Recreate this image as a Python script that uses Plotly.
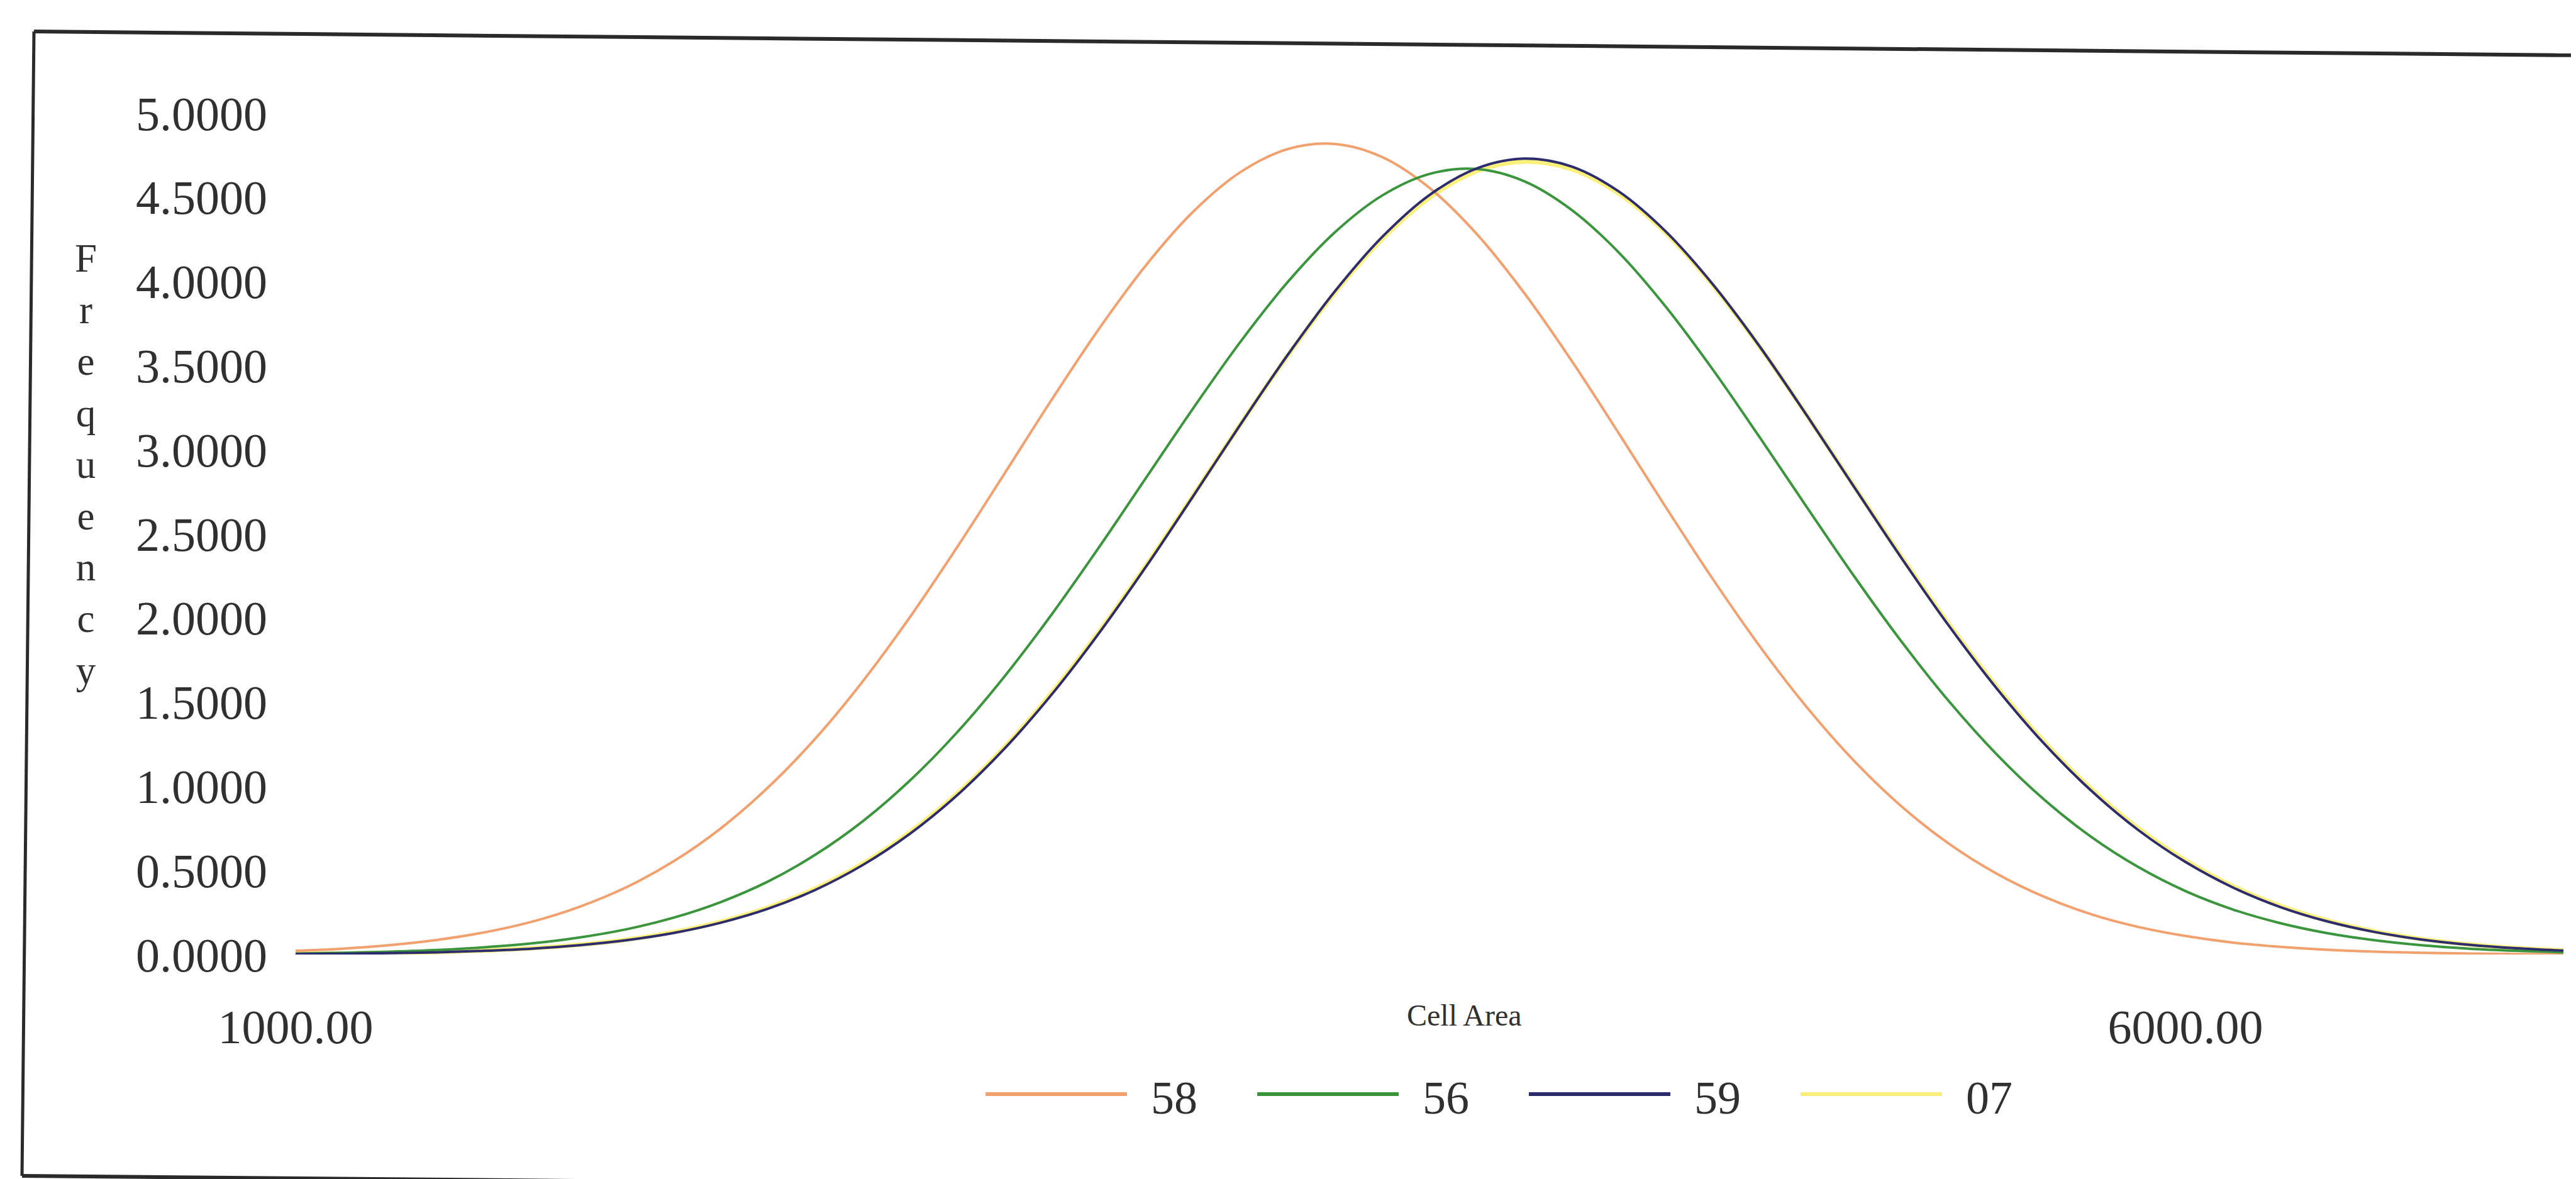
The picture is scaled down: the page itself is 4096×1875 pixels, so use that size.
import plotly.graph_objects as go

# ---------------- data ----------------
cell_area = [1000, 1125, 1250, 1375, 1500, 1625, 1750, 1875, 2000, 2125, 2250, 2375,
             2500, 2625, 2750, 2875, 3000, 3125, 3250, 3375, 3500, 3625, 3750, 3875,
             4000, 4125, 4250, 4375, 4500, 4625, 4750, 4875, 5000, 5125, 5250, 5375,
             5500, 5625, 5750, 5875, 6000, 6125, 6250, 6375, 6500, 6625, 6750, 6875, 7000]

freq_58 = [0.022, 0.035, 0.056, 0.087, 0.132, 0.195, 0.283, 0.400, 0.554, 0.750, 0.993, 1.283,
           1.622, 2.004, 2.420, 2.856, 3.296, 3.717, 4.097, 4.415, 4.650, 4.787, 4.817, 4.739,
           4.556, 4.282, 3.933, 3.532, 3.100, 2.659, 2.230, 1.828, 1.465, 1.147, 0.878, 0.657,
           0.481, 0.344, 0.240, 0.164, 0.110, 0.071, 0.046, 0.028, 0.017, 0.010, 0.006, 0.003, 0.002]
freq_56 = [0.006, 0.010, 0.017, 0.027, 0.043, 0.066, 0.101, 0.150, 0.219, 0.312, 0.434, 0.593,
           0.791, 1.033, 1.320, 1.651, 2.020, 2.418, 2.833, 3.247, 3.642, 3.997, 4.293, 4.511,
           4.639, 4.668, 4.596, 4.427, 4.174, 3.850, 3.475, 3.069, 2.653, 2.243, 1.856, 1.503,
           1.191, 0.923, 0.700, 0.520, 0.377, 0.268, 0.187, 0.127, 0.085, 0.055, 0.035, 0.022, 0.013]
freq_59 = [0.003, 0.005, 0.008, 0.013, 0.022, 0.035, 0.055, 0.085, 0.128, 0.189, 0.272, 0.384,
           0.531, 0.717, 0.946, 1.222, 1.544, 1.908, 2.305, 2.725, 3.151, 3.564, 3.942, 4.265,
           4.514, 4.672, 4.730, 4.684, 4.536, 4.297, 3.982, 3.609, 3.198, 2.773, 2.352, 1.951,
           1.583, 1.256, 0.975, 0.740, 0.550, 0.399, 0.283, 0.197, 0.134, 0.089, 0.058, 0.037, 0.023]
freq_07 = [0.004, 0.006, 0.009, 0.014, 0.024, 0.037, 0.058, 0.088, 0.133, 0.195, 0.279, 0.392,
           0.540, 0.727, 0.956, 1.232, 1.555, 1.917, 2.313, 2.730, 3.152, 3.560, 3.934, 4.252,
           4.497, 4.655, 4.712, 4.668, 4.523, 4.288, 3.976, 3.607, 3.199, 2.778, 2.360, 1.961,
           1.594, 1.267, 0.986, 0.751, 0.560, 0.407, 0.290, 0.202, 0.138, 0.092, 0.060, 0.038, 0.024]

series_names = ["58", "56", "59", "07"]
series_values = [freq_58, freq_56, freq_59, freq_07]

y_tick_values = [0, 0.5, 1.0, 1.5, 2.0, 2.5, 3.0, 3.5, 4.0, 4.5, 5.0]
y_tick_labels = ["0.0000", "0.5000", "1.0000", "1.5000", "2.0000", "2.5000",
                 "3.0000", "3.5000", "4.0000", "4.5000", "5.0000"]
x_tick_values = [1000, 6000]
x_tick_labels = ["1000.00", "6000.00"]

x_title = "Cell Area"
y_title = "Frequency"

# ---------------- styles / layout ----------------
colors = {"58": "#F2A06E", "56": "#3A953C", "59": "#2C2C6E", "07": "#FBF07A"}
widths = {"58": 4, "56": 4, "59": 4, "07": 7}
draw_order = ["07", "58", "56", "59"]

W, H = 4096, 1875
PL, PR, PT, PB = 462, 4068, 172, 1510
FONT = "Liberation Serif, Times New Roman, serif"
TXT = "#303030"


def px(x, y):
    return (x - PL) / (PR - PL), (PB - y) / (PB - PT)


fig = go.Figure()
for name in draw_order:
    vals = series_values[series_names.index(name)]
    fig.add_trace(go.Scatter(
        x=cell_area, y=vals, name=name, mode="lines",
        line=dict(color=colors[name], width=widths[name], shape="spline", smoothing=1.0),
        cliponaxis=False, hoverinfo="x+y+name",
    ))

shapes = []
# scanned, slightly tilted frame
for (x0, y0), (x1, y1), w in [((46, 42), (4200, 81), 6),
                               ((46, 42), (27, 1862), 5),
                               ((27, 1862), (1900, 1879), 6)]:
    a0, b0 = px(x0, y0)
    a1, b1 = px(x1, y1)
    shapes.append(dict(type="line", xref="paper", yref="paper", x0=a0, y0=b0, x1=a1, y1=b1,
                       line=dict(color="#2a2a2a", width=w)))

annotations = []
# legend (drawn manually to match the long line samples)
leg_x0, leg_step, leg_len, leg_y, leg_text_off = 1559, 432, 225, 1732, 300
for i, name in enumerate(series_names):
    xs = leg_x0 + i * leg_step
    a0, b0 = px(xs, leg_y)
    a1, _ = px(xs + leg_len, leg_y)
    shapes.append(dict(type="line", xref="paper", yref="paper", x0=a0, y0=b0, x1=a1, y1=b0,
                       line=dict(color=colors[name], width=6)))
    tx, ty = px(xs + leg_text_off, leg_y + 6)
    annotations.append(dict(text=name, x=tx, y=ty, xref="paper", yref="paper",
                            xanchor="center", yanchor="middle", showarrow=False,
                            font=dict(family=FONT, size=74, color=TXT)))

# x-axis title
tx, ty = px(2320, 1606)
annotations.append(dict(text=x_title, x=tx, y=ty, xref="paper", yref="paper",
                        xanchor="center", yanchor="middle", showarrow=False,
                        font=dict(family=FONT, size=48, color=TXT)))
# y-axis title (stacked letters)
tx, ty = px(128, 730)
annotations.append(dict(text="<br>".join(list(y_title)), x=tx, y=ty, xref="paper", yref="paper",
                        xanchor="center", yanchor="middle", showarrow=False, align="center",
                        font=dict(family=FONT, size=63, color=TXT)))

fig.update_layout(
    width=W, height=H,
    margin=dict(l=PL, r=W - PR, t=PT, b=H - PB, pad=0),
    paper_bgcolor="white", plot_bgcolor="white",
    showlegend=False,
    font=dict(family=FONT, color=TXT),
    shapes=shapes, annotations=annotations,
    xaxis=dict(range=[1000, 7000], tickvals=x_tick_values, ticktext=x_tick_labels,
               showgrid=False, zeroline=False, showline=False, ticks="",
               tickfont=dict(family=FONT, size=76, color=TXT), ticklabelstandoff=64),
    yaxis=dict(range=[0, 5], tickvals=y_tick_values, ticktext=y_tick_labels,
               showgrid=False, zeroline=False, showline=False, ticks="",
               tickfont=dict(family=FONT, size=76, color=TXT), ticklabelstandoff=44),
)

fig.write_html("out.html")
